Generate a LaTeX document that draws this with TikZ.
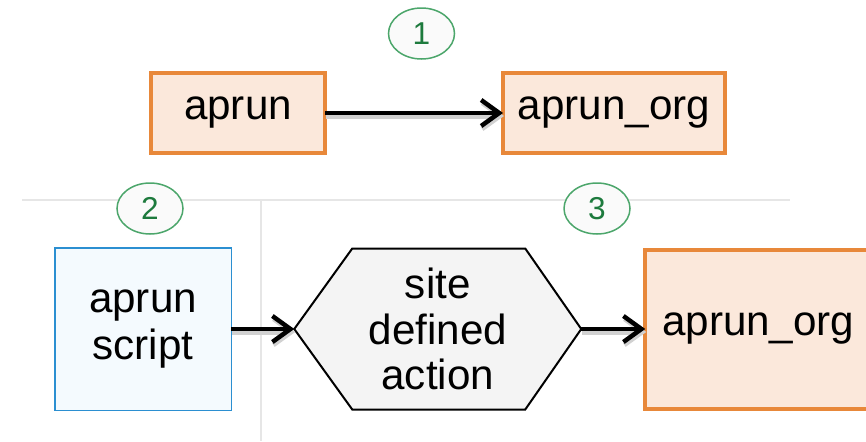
\documentclass[tikz,border=0pt]{standalone}
\usepackage{fontspec}
\setmainfont{Liberation Sans}
\usetikzlibrary{%
    positioning,
    shapes.geometric,
    arrows.meta,
    backgrounds
}
\definecolor{orangeline}{HTML}{E8883A}
\definecolor{orangefill}{HTML}{FBE8DB}
\definecolor{blueline}{HTML}{2B8FD1}
\definecolor{bluefill}{HTML}{F4FAFE}
\definecolor{hexfill}{HTML}{F4F4F4}
\definecolor{stepline}{HTML}{4CA66B}
\definecolor{steptext}{HTML}{1D7A3D}
\definecolor{sepgray}{HTML}{E6E6E6}
\tikzset{
    orgbox/.style = {
        rectangle, draw=orangeline, fill=orangefill,
        line width=0.08cm,
        font=\fontsize{24}{27}\selectfont,
        outer sep=0pt,
    },
    stepmark/.style = {
        ellipse, draw=stepline, fill=white!98!black,
        line width=0.03cm, text=steptext,
        minimum width=1.32cm, minimum height=1.02cm,
        inner sep=0pt,
        font=\fontsize{18}{20}\selectfont,
    },
    flow/.style = {
        -{Straight Barb[length=0.36cm, width=0.52cm, line width=0.09cm]},
        line width=0.09cm, black,
        preaction = {
            draw=black!18, line width=0.1cm,
            transform canvas={shift={(0.02, -0.06)}}
        },
    },
    sepline/.style = {
        draw=sepgray, line width=0.04cm,
    }
}

\begin{document}
\begin{tikzpicture}
    \useasboundingbox (0, 0) rectangle (17.32, 8.82);
    % separators
    \draw[sepline] (0.44, 4.82) -- (15.8, 4.82);
    \draw[sepline] (5.22, 4.82) -- (5.22, 0);

    \node[
        orgbox,
        minimum width = 3.48cm,
        minimum height = 1.6cm
    ] (aprun) at (4.76, 6.56) {aprun};
    \node[
        orgbox,
        minimum width = 4.44cm,
        minimum height = 1.6cm,
        right=3.56cm of aprun
    ] (aprunorg) {aprun\_org};
    \draw[flow] (aprun) -- (aprunorg);

    \node[stepmark] (stepone) at (8.43, 8.15) {1};
    \node[stepmark] (steptwo) at (3.0, 4.65) {2};
    \node[stepmark] (stepthree) at (11.94, 4.65) {3};

    \node[
        rectangle,
        draw=blueline,
        fill=bluefill,
        line width=0.03cm,
        outer sep=0pt,
        align=center,
        font=\fontsize{24}{27}\selectfont,
        minimum width = 3.53cm,
        minimum height = 3.25cm
    ] (script) at (2.86, 2.24) {aprun\\script};
    \node[
        rectangle,
        outer sep=0pt,
        align=center,
        font=\fontsize{24}{26}\selectfont,
        minimum width = 5.74cm,
        minimum height = 3.22cm,
        right=1.26cm of script
    ] (action) {site\\defined\\action};
    \begin{scope}[on background layer]
        \draw[fill=hexfill, line width=0.04cm]
            (action.west) -- ([xshift=1.16cm]action.north west)
            -- ([xshift=-1.12cm]action.north east) -- (action.east)
            -- ([xshift=-1.12cm]action.south east)
            -- ([xshift=1.16cm]action.south west) -- cycle;
    \end{scope}
    \node[
        orgbox,
        minimum width = 4.52cm,
        minimum height = 3.18cm,
        right=1.28cm of action
    ] (scriptorg) {aprun\_org};
    \draw[flow] (script) -- (action);
    \draw[flow] (action) -- (scriptorg);
\end{tikzpicture}
\end{document}
